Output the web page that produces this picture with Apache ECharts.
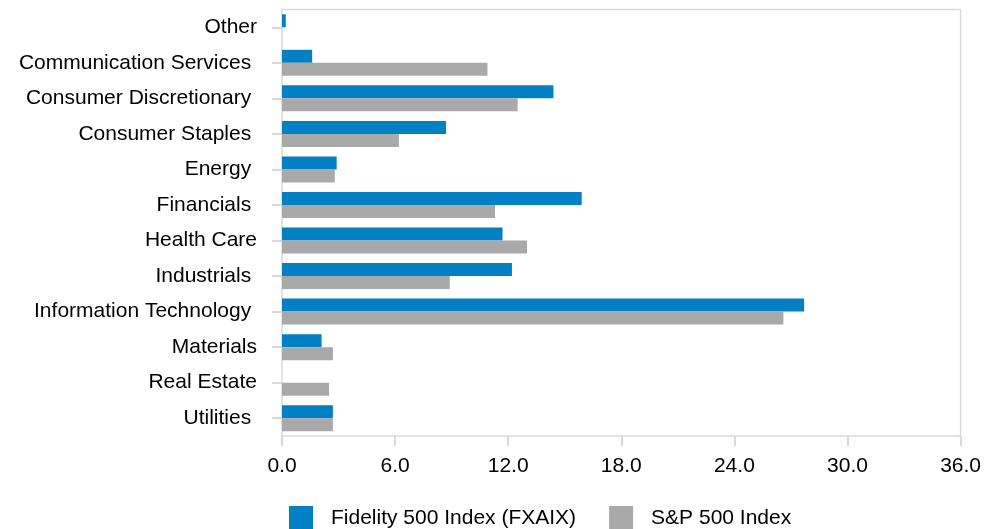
<!DOCTYPE html>
<html>
<head>
<meta charset="utf-8">
<title>Sector Allocation</title>
<script src="https://cdn.jsdelivr.net/npm/echarts@6/dist/echarts.min.js"></script>
<style>
  html, body { margin: 0; padding: 0; background: #ffffff; }
  #chart { width: 984px; height: 529px; }
</style>
</head>
<body>
<div id="chart"></div>
<script>
// Sector weights (%) for the fund and its benchmark
const sectors = [
  'Other',
  'Communication Services ',
  'Consumer Discretionary ',
  'Consumer Staples ',
  'Energy ',
  'Financials ',
  'Health Care',
  'Industrials ',
  'Information Technology ',
  'Materials',
  'Real Estate',
  'Utilities '
];
const fundName = 'Fidelity 500 Index (FXAIX)';
const indexName = 'S&P 500 Index';
const fundWeights = [0.2, 1.6, 14.4, 8.7, 2.9, 15.9, 11.7, 12.2, 27.7, 2.1, null, 2.7];
const indexWeights = [null, 10.9, 12.5, 6.2, 2.8, 11.3, 13.0, 8.9, 26.6, 2.7, 2.5, 2.7];
const axisMin = 0;
const axisMax = 36;
const axisStep = 6;

const FONT = "'Liberation Sans', Arial, sans-serif";
const TEXT = '#000000';
const chart = echarts.init(document.getElementById('chart'), null, { renderer: 'canvas' });

chart.setOption({
  animation: false,
  textStyle: { fontFamily: FONT },
  grid: {
    left: 282, top: 9.5, right: 22, bottom: 93,
    show: true, borderColor: '#d9d9d9', borderWidth: 1.5,
    containLabel: false
  },
  legend: {
    data: [fundName, indexName],
    left: 289, top: 506,
    padding: 0,
    icon: 'rect',
    itemWidth: 24, itemHeight: 24,
    itemGap: 33,
    textStyle: { fontSize: 21, color: TEXT, fontFamily: FONT, padding: [0, 0, 0, 13] }
  },
  xAxis: {
    type: 'value',
    min: axisMin, max: axisMax, interval: axisStep,
    axisLine: { show: false },
    axisTick: { show: true, length: 10, lineStyle: { color: '#d9d9d9', width: 2 } },
    splitLine: { show: false },
    axisLabel: {
      fontSize: 21, color: TEXT, fontFamily: FONT, margin: 20,
      formatter: v => v.toFixed(1)
    }
  },
  yAxis: {
    type: 'category',
    data: sectors,
    inverse: true,
    axisLine: { show: false },
    axisTick: { show: true, length: 10, alignWithLabel: true, lineStyle: { color: '#d9d9d9', width: 2 } },
    axisLabel: { fontSize: 21, color: TEXT, fontFamily: FONT, margin: 25 }
  },
  series: [
    {
      name: fundName, type: 'bar', data: fundWeights,
      barWidth: 13, barGap: '0%',
      itemStyle: { color: '#0180c3' }
    },
    {
      name: indexName, type: 'bar', data: indexWeights,
      barWidth: 13, barGap: '0%',
      itemStyle: { color: '#a9a9a9' }
    }
  ]
});
</script>
</body>
</html>
